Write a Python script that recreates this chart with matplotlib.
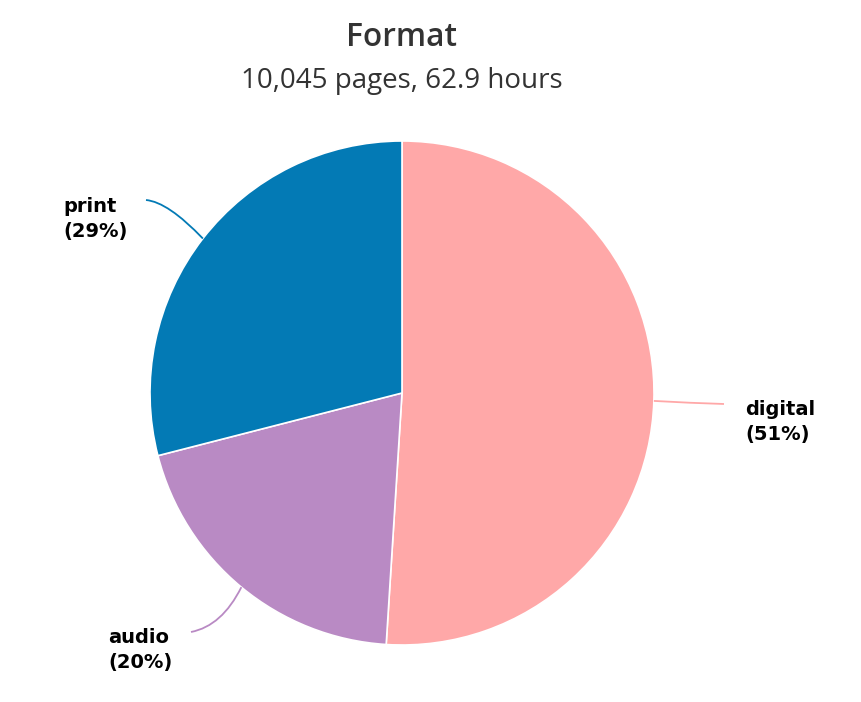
import numpy as np
import matplotlib.pyplot as plt
from matplotlib.path import Path
from matplotlib.patches import PathPatch

# Data
labels = ['digital', 'audio', 'print']
shares = [51, 20, 29]
colors = ['#FFA8A8', '#B98AC4', '#037AB5']
title = 'Format'
subtitle = '10,045 pages, 62.9 hours'

W, H = 862, 702
fig = plt.figure(figsize=(W / 100, H / 100), dpi=100)
ax = fig.add_axes([0, 0, 1, 1])

cx, cy, r = 402, H - 393, 252
wedges, _ = ax.pie(shares, colors=colors, startangle=90, counterclock=False,
                   center=(cx, cy), radius=r, frame=True,
                   wedgeprops=dict(edgecolor='white', linewidth=1.2))
ax.set_xlim(0, W)
ax.set_ylim(0, H)
ax.set_aspect('equal')
ax.axis('off')

# label positions (pixel coords from top) and connector bend points
label_pos = {'digital': (745, 422), 'audio': (108, 650), 'print': (63, 219)}
line_end = {'digital': (724, 404), 'audio': (191, 632), 'print': (146, 200)}
ctrl = {'digital': (690, 403), 'audio': (222, 626), 'print': (168, 202)}

for w, lab, val, col in zip(wedges, labels, shares, colors):
    mid = np.deg2rad((w.theta1 + w.theta2) / 2)
    sx, sy = cx + r * np.cos(mid), cy + r * np.sin(mid)
    ex, ey = line_end[lab]
    qx, qy = ctrl[lab]
    path = Path([(sx, sy), (qx, H - qy), (ex, H - ey)],
                [Path.MOVETO, Path.CURVE3, Path.CURVE3])
    ax.add_patch(PathPatch(path, fill=False, edgecolor=col, lw=1.3))
    lx, ly = label_pos[lab]
    ax.text(lx, H - ly, f'{lab}\n({val}%)', ha='left', va='center',
            fontsize=14, fontweight='bold', family='DejaVu Sans',
            color='black', linespacing=1.45)

fig.text(402 / W, 1 - 38 / H, title, ha='center', va='center',
         fontsize=22.8, fontweight='semibold', family='Open Sans', color='#333333')
fig.text(402 / W, 1 - 81 / H, subtitle, ha='center', va='center',
         fontsize=20, family='Open Sans', color='#333333')

fig.savefig('out.png', dpi=100)
plt.close()
